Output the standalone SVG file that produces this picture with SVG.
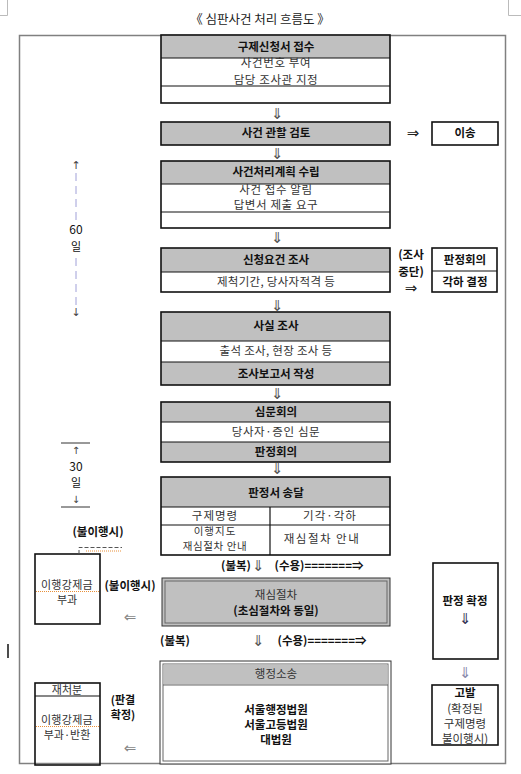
<svg xmlns="http://www.w3.org/2000/svg" width="521" height="774" viewBox="0 0 521 774">
<style>
text{font-family:"Noto Sans CJK KR","Noto Sans",sans-serif;font-size:11.5px;text-anchor:middle;fill:#333}
.b{font-weight:bold;fill:#111}
.n{stroke:#111;stroke-width:1.6;fill:none}
.g{fill:#c0c0c0}
.w{fill:#fff}
.ln{stroke:#111;stroke-width:1.2}
.ar{font-family:"DejaVu Sans",sans-serif;font-size:15px;fill:#555}
.sp{stroke:#e8903a;stroke-width:1;stroke-dasharray:1 1;fill:none}
.s{font-size:11px}
.t{font-size:10.5px}
</style>
<rect width="521" height="774" fill="#fff"/>
<g id="marks" stroke="#bbb" stroke-width="1" fill="none">
<path d="M0 15.5H7.5V0"/><path d="M521 15.5H508.5V0"/>
</g>
<text x="260" y="24" style="font-size:12.5px;fill:#222">《 심판사건 처리 흐름도 》</text>
<rect id="frame" x="19.5" y="35.5" width="486" height="728" fill="none" stroke="#808080" stroke-width="1.5"/>
<line x1="8" y1="644" x2="8" y2="658" stroke="#111" stroke-width="1.5"/>

<g id="n1">
<rect x="161" y="35" width="229" height="68" class="w"/>
<rect x="161" y="35" width="229" height="23" class="g"/>
<rect x="161" y="35" width="229" height="68" class="n"/>
<line x1="161" y1="58" x2="390" y2="58" class="ln"/>
<line x1="161" y1="86" x2="390" y2="86" class="ln"/>
<text x="276" y="51" class="b">구제신청서 접수</text>
<text x="276" y="67" style="letter-spacing:0.6px">사건번호 부여</text>
<text x="276" y="84" style="letter-spacing:0.6px">담당 조사관 지정</text>
</g>
<g id="n2">
<rect x="161" y="122" width="229" height="23" class="g"/>
<rect x="161" y="122" width="229" height="23" class="n"/>
<text x="276" y="137" class="b">사건 관할 검토</text>
</g>
<g id="n2b">
<rect x="432" y="122" width="66" height="23" class="n"/>
<text x="465" y="137" class="b">이송</text>
</g>
<g id="n3">
<rect x="161" y="161" width="229" height="67" class="w"/>
<rect x="161" y="161" width="229" height="23" class="g"/>
<rect x="161" y="161" width="229" height="67" class="n"/>
<line x1="161" y1="184" x2="390" y2="184" class="ln"/>
<line x1="161" y1="212" x2="390" y2="212" class="ln"/>
<text x="276" y="176" class="b">사건처리계획 수립</text>
<text x="276" y="194" style="letter-spacing:0.6px">사건 접수 알림</text>
<text x="276" y="209" style="letter-spacing:0.6px">답변서 제출 요구</text>
</g>
<g id="n4">
<rect x="161" y="248" width="229" height="44" class="w"/>
<rect x="161" y="248" width="229" height="24" class="g"/>
<rect x="161" y="248" width="229" height="44" class="n"/>
<line x1="161" y1="272" x2="390" y2="272" class="ln"/>
<text x="276" y="264" class="b">신청요건 조사</text>
<text x="276" y="286" style="letter-spacing:0.3px">제척기간, 당사자적격 등</text>
</g>
<g id="n4b">
<rect x="432" y="248" width="65" height="44" class="n"/>
<line x1="432" y1="271" x2="497" y2="271" class="ln"/>
<text x="465" y="264" class="b">판정회의</text>
<text x="465" y="286" class="b">각하 결정</text>
</g>
<g id="n5">
<rect x="161" y="312" width="229" height="73" class="g"/>
<rect x="161" y="341" width="229" height="21" class="w"/>
<rect x="161" y="312" width="229" height="73" class="n"/>
<line x1="161" y1="341" x2="390" y2="341" class="ln"/>
<line x1="161" y1="362" x2="390" y2="362" class="ln"/>
<text x="276" y="330" class="b">사실 조사</text>
<text x="276" y="355" style="letter-spacing:0.3px">출석 조사, 현장 조사 등</text>
<text x="276" y="378" class="b">조사보고서 작성</text>
</g>
<g id="n6">
<rect x="161" y="402" width="229" height="60" class="g"/>
<rect x="161" y="422" width="229" height="20" class="w"/>
<rect x="161" y="402" width="229" height="60" class="n"/>
<line x1="161" y1="422" x2="390" y2="422" class="ln"/>
<line x1="161" y1="442" x2="390" y2="442" class="ln"/>
<text x="276" y="416" class="b">심문회의</text>
<text x="276" y="436" style="letter-spacing:0.6px">당사자·증인 심문</text>
<text x="276" y="456" class="b">판정회의</text>
</g>
<g id="n7">
<rect x="161" y="477" width="229" height="78" class="w"/>
<rect x="161" y="477" width="229" height="30" class="g"/>
<rect x="161" y="477" width="229" height="78" class="n"/>
<line x1="161" y1="507" x2="390" y2="507" class="ln"/>
<line x1="161" y1="525" x2="390" y2="525" class="ln"/>
<line x1="270" y1="507" x2="270" y2="555" class="ln"/>
<text x="276" y="497" class="b">판정서 송달</text>
<text x="215" y="520" style="letter-spacing:1px">구제명령</text>
<text x="330" y="520" style="letter-spacing:1px">기각·각하</text>
<text x="215" y="534.5" class="t" style="letter-spacing:1px">이행지도</text>
<text x="215" y="550" class="t" style="letter-spacing:0.6px">재심절차 안내</text>
<text x="322" y="543" style="letter-spacing:1.5px">재심절차 안내</text>
</g>
<g id="n8">
<rect x="162" y="578" width="228" height="48" class="g" stroke="#333" stroke-width="1"/>
<rect x="165" y="581" width="222" height="42" fill="none" stroke="#666" stroke-width="1"/>
<text x="276" y="599">재심절차</text>
<text x="276" y="615" class="b">(초심절차와 동일)</text>
</g>
<g id="n8b">
<rect x="433" y="563" width="65" height="96" fill="#fff" class="n"/>
<text x="465" y="605" class="b">판정 확정</text>
<text x="465" y="624" class="ar" style="fill:#335">⇓</text>
</g>
<g id="n9">
<rect x="160" y="661" width="231" height="103" fill="#fff" stroke="#333" stroke-width="1"/>
<rect x="163" y="664" width="225" height="97" fill="none" stroke="#666" stroke-width="1"/>
<rect x="163.5" y="664.5" width="224" height="20" class="g"/>
<line x1="163" y1="685" x2="388" y2="685" stroke="#666" stroke-width="1"/>
<text x="276" y="678">행정소송</text>
<text x="276" y="714" class="b">서울행정법원</text>
<text x="276" y="729" class="b">서울고등법원</text>
<text x="276" y="744" class="b">대법원</text>
</g>
<g id="n9b">
<rect x="432" y="685" width="66" height="60" fill="#fff" class="n"/>
<text x="465" y="697" class="b">고발</text>
<text x="465" y="713">(확정된</text>
<text x="465" y="728">구제명령</text>
<text x="465" y="743">불이행시)</text>
</g>
<g id="n10">
<rect x="35" y="554" width="65" height="70" fill="#fff" class="n"/>
<text x="67" y="589" class="s" style="letter-spacing:0.3px">이행강제금</text>
<text x="67" y="604" class="s">부과</text>
<path d="M36 591.5H100" class="sp"/>
</g>
<g id="n11">
<rect x="35" y="683" width="65" height="82" fill="#fff" class="n"/>
<line x1="35" y1="696" x2="100" y2="696" class="ln"/>
<text x="67" y="694" class="s">재처분</text>
<text x="67" y="724" class="s" style="letter-spacing:0.3px">이행강제금</text>
<text x="67" y="739" class="s">부과·반환</text>
<path d="M36 726.5H100" class="sp"/>
</g>

<g id="connectors">
<text x="277" y="119" class="ar">⇓</text>
<text x="277" y="159" class="ar">⇓</text>
<text x="277" y="243" class="ar">⇓</text>
<text x="277" y="311" class="ar">⇓</text>
<text x="277" y="399" class="ar">⇓</text>
<text x="277" y="474" class="ar">⇓</text>
<text x="413" y="138" class="ar" style="fill:#222">⇒</text>
<text x="411" y="259" class="b">(조사</text>
<text x="411" y="276" class="b">중단)</text>
<text x="411" y="293" class="ar" style="fill:#222">⇒</text>
<text x="236" y="570" class="b">(불복)</text>
<text x="258" y="571" class="ar" style="fill:#555">⇓</text>
<text x="319" y="570" class="b">(수용)=======⇒</text>
<text x="175" y="645" class="b">(불복)</text>
<text x="258" y="646" class="ar" style="fill:#555">⇓</text>
<text x="322" y="645" class="b">(수용)=======⇒</text>
<text x="465" y="678" class="ar" style="fill:#88a">⇓</text>
<text x="130" y="622" class="ar" style="fill:#888">⇐</text>
<text x="130" y="753" class="ar" style="fill:#888">⇐</text>
<text x="123" y="704" class="b s">(판결</text>
<text x="123" y="719" class="b s">확정)</text>
<text x="98" y="536" class="b">(불이행시)</text>
<text x="130" y="590" class="b">(불이행시)</text>
<path d="M79 554V547.5H122" fill="none" stroke="#555" stroke-width="1" stroke-dasharray="4 2"/>
<path d="M86 551H122" class="sp"/>
<text x="76" y="169" class="ar" style="fill:#444;font-size:11px">↑</text>
<line x1="76" y1="173" x2="76" y2="222" stroke="#a0a0d8" stroke-width="1" stroke-dasharray="8 5"/>
<text x="76" y="234" style="fill:#111;font-size:12px">60</text>
<text x="76" y="251" style="fill:#111;font-size:11px">일</text>
<line x1="76" y1="258" x2="76" y2="305" stroke="#a0a0d8" stroke-width="1" stroke-dasharray="8 5"/>
<text x="76" y="316" class="ar" style="fill:#444;font-size:11px">↓</text>
<line x1="61" y1="443" x2="90" y2="443" stroke="#333" stroke-width="1"/>
<text x="76" y="454" class="ar" style="fill:#444;font-size:10px">↑</text>
<text x="76" y="471" style="fill:#111;font-size:12px">30</text>
<text x="76" y="487" style="fill:#111;font-size:11px">일</text>
<text x="76" y="503" class="ar" style="fill:#444;font-size:10px">↓</text>
<line x1="61" y1="507" x2="90" y2="507" stroke="#333" stroke-width="1"/>
</g>
</svg>
